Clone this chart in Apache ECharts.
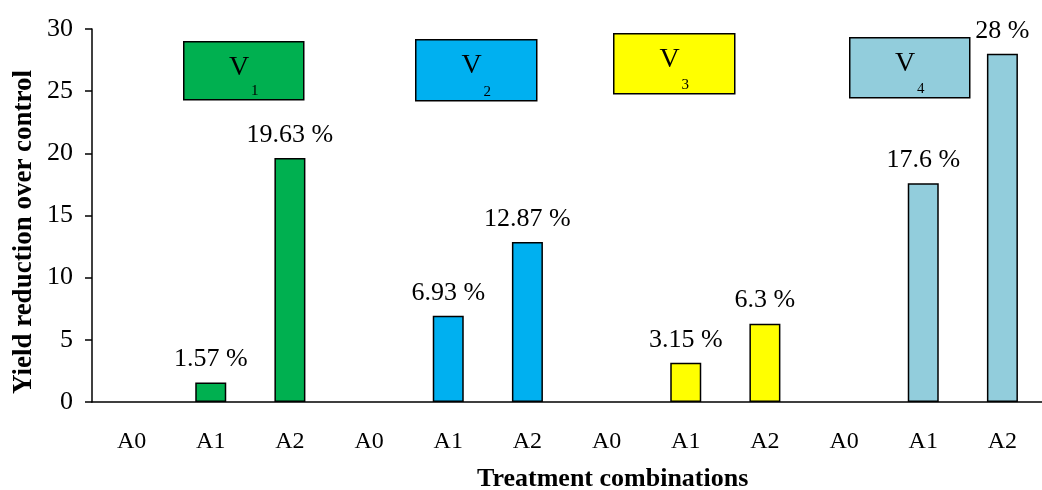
<!DOCTYPE html>
<html>
<head>
<meta charset="utf-8">
<script src="https://cdn.jsdelivr.net/npm/echarts@6/dist/echarts.min.js"></script>
<style>html,body{margin:0;padding:0;background:#fff}#c{width:1042px;height:490px}</style>
</head>
<body>
<div id="c"></div>
<script>
const categories = ['A0','A1','A2','A0','A1','A2','A0','A1','A2','A0','A1','A2'];
const v1 = [0, 1.57, 19.63];
const v2 = [0, 6.93, 12.87];
const v3 = [0, 3.15, 6.3];
const v4 = [0, 17.6, 28];
const groupColors = ['#00B050', '#00B0F0', '#FFFF00', '#92CDDC'];
const groupNames = ['1', '2', '3', '4'];
const yTicks = [0, 5, 10, 15, 20, 25, 30];

const groups = [v1, v2, v3, v4];
const data = [];
groups.forEach((g, gi) => g.forEach(v => data.push({
  value: v,
  itemStyle: { color: groupColors[gi], borderWidth: v === 0 ? 0 : 1.5 },
  label: { show: v !== 0 }
})));

const serif = 'Liberation Serif';
const boxes = [
  { x: 183, y: 41, w: 120, h: 58 },
  { x: 415, y: 39, w: 121, h: 61 },
  { x: 613, y: 33, w: 121, h: 60 },
  { x: 849, y: 37, w: 120, h: 60 }
];
const graphics = [];
boxes.forEach((b, i) => {
  graphics.push({
    type: 'rect', left: b.x, top: b.y, z: 10,
    shape: { width: b.w, height: b.h },
    style: { fill: groupColors[i], stroke: '#000', lineWidth: 1.5 }
  });
  graphics.push({
    type: 'text', left: b.x + b.w / 2 - 14, top: b.y + 13, z: 11,
    style: { text: 'V', fontSize: 28, fontFamily: serif, fill: '#000' }
  });
  graphics.push({
    type: 'text', left: b.x + b.w / 2 + 8, top: b.y + b.h - 15, z: 11,
    style: { text: groupNames[i], fontSize: 15, fontFamily: serif, fill: '#000' }
  });
});
graphics.push({
  type: 'text', left: 477, top: 466,
  style: { text: 'Treatment combinations', fontSize: 26, fontWeight: 'bold', fontFamily: serif, fill: '#000' }
});
graphics.push({
  type: 'text', x: 24, y: 232, rotation: Math.PI / 2,
  style: {
    text: 'Yield reduction over control', fontSize: 27, fontWeight: 'bold', fontFamily: serif,
    fill: '#000', align: 'center', verticalAlign: 'middle'
  }
});

const chart = echarts.init(document.getElementById('c'));
chart.setOption({
  animation: false,
  grid: { left: 92, top: 29, width: 958, height: 373 },
  xAxis: {
    type: 'category',
    data: categories,
    axisLine: { lineStyle: { color: '#000', width: 1.5 } },
    axisTick: { show: false },
    axisLabel: { color: '#000', fontFamily: serif, fontSize: 24, margin: 28 }
  },
  yAxis: {
    type: 'value',
    min: 0, max: 30, interval: 5,
    splitLine: { show: false },
    axisLine: { show: true, lineStyle: { color: '#000', width: 1.5 } },
    axisTick: { show: true, length: 7, lineStyle: { color: '#000', width: 1.5 } },
    axisLabel: {
      color: '#000', fontFamily: serif, fontSize: 26, margin: 19,
      formatter: v => yTicks.includes(v) ? String(v) : ''
    }
  },
  series: [{
    type: 'bar',
    data: data,
    barWidth: 31,
    itemStyle: { borderColor: '#000', borderWidth: 1.5 },
    label: {
      show: true, position: 'top', distance: 10,
      color: '#000', fontFamily: serif, fontSize: 26,
      formatter: p => p.value + ' %'
    }
  }],
  graphic: graphics
});
</script>
</body>
</html>
